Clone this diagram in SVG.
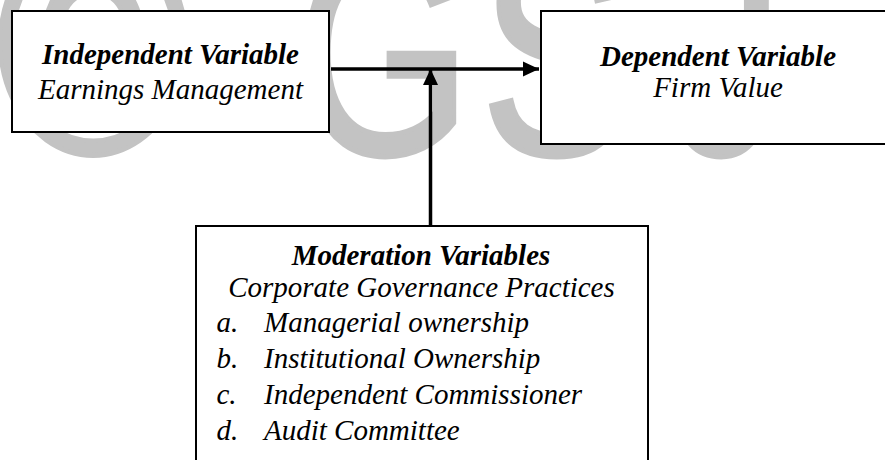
<svg xmlns="http://www.w3.org/2000/svg" width="885" height="460" viewBox="0 0 885 460">
  <defs>
    <style>
      .wm { font-family: "Liberation Sans", Arial, sans-serif; fill: #c3c3c3; stroke: #c3c3c3; stroke-width: 4; }
      .box { fill: #ffffff; stroke: #000000; stroke-width: 2; }
      .title { font-family: "Liberation Serif", "Times New Roman", serif; font-style: italic; font-weight: bold; font-size: 29px; fill: #000000; }
      .sub { font-family: "Liberation Serif", "Times New Roman", serif; font-style: italic; font-size: 29px; fill: #000000; }
      .link { fill: none; stroke: #000000; stroke-width: 3.5; }
    </style>
    <marker id="arrow" viewBox="0 0 16 16" refX="16" refY="8" markerWidth="16" markerHeight="16" markerUnits="userSpaceOnUse" orient="auto">
      <path d="M0,0.5 L16,8 L0,15.5 Z" fill="#000000"/>
    </marker>
  </defs>

  <rect width="885" height="460" fill="#ffffff"/>

  <!-- background watermark -->
  <g id="watermark">
    <text class="wm" font-size="264" transform="translate(-4,153) scale(1,1.21)">©</text>
    <text class="wm" font-size="225" transform="translate(296,154) scale(1,1.3)">G</text>
    <text class="wm" font-size="225" transform="translate(481,154) scale(1,1.3)">S</text>
    <text class="wm" font-size="225" transform="translate(671,154) scale(1,1.3)">J</text>
  </g>

  <!-- connectors -->
  <g id="connectors">
    <line class="link" x1="331" y1="69" x2="539" y2="69" marker-end="url(#arrow)"/>
    <line class="link" x1="430.5" y1="226" x2="430.5" y2="69" marker-end="url(#arrow)"/>
  </g>

  <g id="independent">
    <rect class="box" x="12" y="11" width="317" height="121"/>
    <text class="title" x="170.5" y="64" text-anchor="middle">Independent Variable</text>
    <text class="sub" x="170.5" y="99" text-anchor="middle">Earnings Management</text>
  </g>

  <g id="dependent">
    <rect class="box" x="541" y="11" width="360" height="133"/>
    <text class="title" x="718" y="66" text-anchor="middle">Dependent Variable</text>
    <text class="sub" x="718" y="97" text-anchor="middle">Firm Value</text>
  </g>

  <g id="moderation">
    <rect class="box" x="196" y="226" width="452" height="250"/>
    <text class="title" x="421" y="265" text-anchor="middle">Moderation Variables</text>
    <text class="sub" x="421.5" y="297" text-anchor="middle">Corporate Governance Practices</text>
    <text class="sub" x="216.5" y="331.5">a.</text>
    <text class="sub" x="264" y="331.5">Managerial ownership</text>
    <text class="sub" x="216.5" y="367.5">b.</text>
    <text class="sub" x="264" y="367.5">Institutional Ownership</text>
    <text class="sub" x="216.5" y="404">c.</text>
    <text class="sub" x="264" y="404">Independent Commissioner</text>
    <text class="sub" x="216.5" y="440">d.</text>
    <text class="sub" x="264" y="440">Audit Committee</text>
  </g>
</svg>
